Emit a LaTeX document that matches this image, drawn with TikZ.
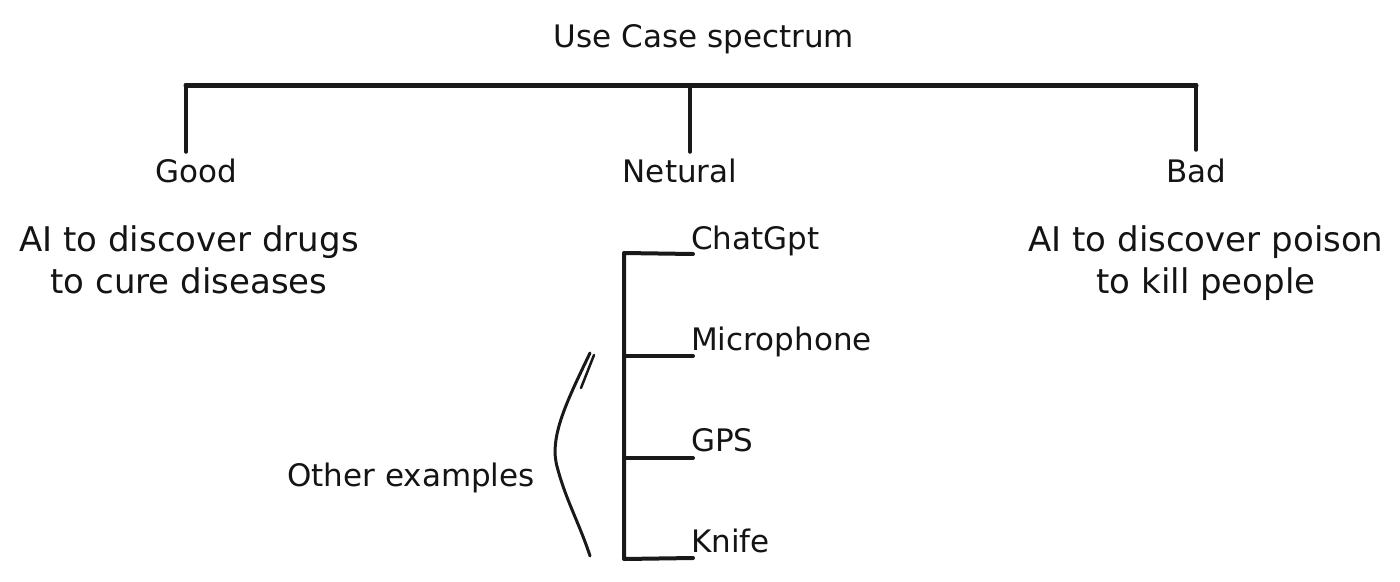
\documentclass[tikz,border=0pt]{standalone}
\usepackage{fontspec}
\setmainfont{DejaVu Sans}
\begin{document}
\begin{tikzpicture}[x=1pt,y=-1pt,
  lbl/.style={anchor=base,inner sep=0pt,font=\fontsize{31}{42}\selectfont,text=black!92},
  lblw/.style={anchor=base west,inner sep=0pt,font=\fontsize{31}{42}\selectfont,text=black!92},
  twoline/.style={anchor=base,inner sep=0pt,align=center,font=\fontsize{34}{42}\selectfont,text=black!92},
  bar/.style={line width=5pt,black!90,line cap=round},
  stem/.style={line width=3.5pt,black!90,line cap=round},
  branch/.style={line width=4pt,black!90,line cap=round,line join=round}]
\fill[white] (0,0) rectangle (1400,581);
\useasboundingbox (0,0) rectangle (1400,581);

% title
\node[lbl] (title) at (704,47) {Use Case spectrum};

% bar and stems
\coordinate (barL) at (186,85);
\coordinate (barM) at (690,85);
\coordinate (barR) at (1196,85);
\coordinate (stemL) at (186,152);
\coordinate (stemM) at (690,152);
\coordinate (stemR) at (1196,150);
\draw[bar] (barL) -- (barR);
\draw[stem] (barL) -- (stemL);
\draw[stem] (barM) -- (stemM);
\draw[stem] (barR) -- (stemR);

% categories
\node[lbl] (good) at (196,182) {Good};
\node[lbl] (neutral) at (680,182) {Netural};
\node[lbl] (bad) at (1196,182) {Bad};

% descriptions (base = last line)
\node[twoline] (goodtxt) at (189,293) {AI to discover drugs\\to cure diseases};
\node[twoline] (badtxt) at (1206,293) {AI to discover poison\\to kill people};

% neutral examples
\node[lblw] (chat) at (691,249) {ChatGpt};
\node[lblw] (mic) at (691,350) {Microphone};
\node[lblw] (gps) at (691,451) {GPS};
\node[lblw] (knife) at (691,552) {Knife};

\coordinate (spTop) at (624,253);
\coordinate (spBot) at (624,559);
\coordinate (b1) at (693,254);
\coordinate (b2) at (693,356);
\coordinate (b3) at (693,458);
\coordinate (b4) at (693,558);
\coordinate (j2) at (624,356);
\coordinate (j3) at (624,458);
\draw[branch] (b1) -- (spTop) -- (spBot) -- (b4);
\draw[branch] (j2) -- (b2);
\draw[branch] (j3) -- (b3);

% brace-like curve
\coordinate (cTop) at (590,353);
\coordinate (cBot) at (590,556);
\draw[line width=3pt,black!90,line cap=round] (cTop) .. controls (565,405) and (548,440) .. (558,470) .. controls (566,500) and (580,525) .. (cBot);
\draw[line width=2.5pt,black!90,line cap=round] (594,355) -- (581,388);

\node[lbl] (other) at (411,486) {Other examples};
\end{tikzpicture}
\end{document}
